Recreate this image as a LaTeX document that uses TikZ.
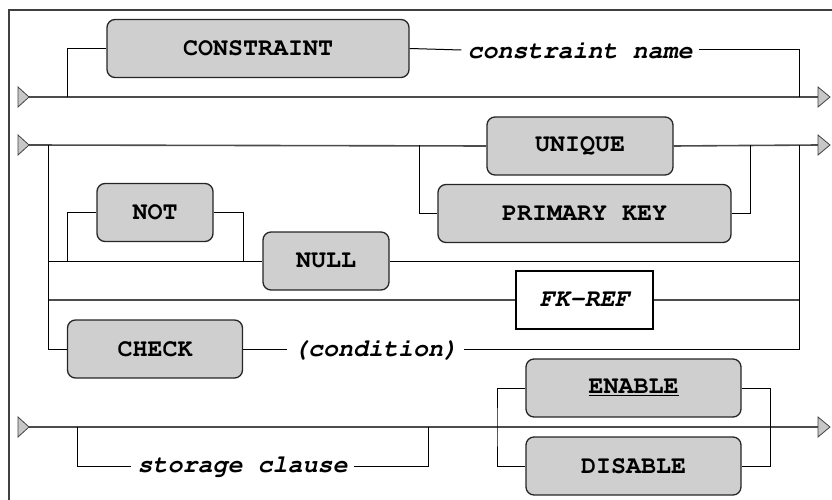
\documentclass[tikz,border=0pt]{standalone}
\usepackage[T1]{fontenc}
\usetikzlibrary{calc}
\newcommand{\kwfont}{\fontencoding{T1}\fontfamily{pcr}\fontsize{25}{28}\selectfont\bfseries}
\newcommand{\reffont}{\fontencoding{T1}\fontfamily{pcr}\fontsize{25}{28}\selectfont\bfseries\slshape}
\tikzset{
  kw/.style={draw=black!85, line width=1.3pt, fill=black!19, rounded corners=8pt,
    font=\kwfont, minimum height=58pt, inner sep=0pt},
  fkbox/.style={draw=black, line width=1.3pt, fill=white, font=\reffont,
    minimum height=58pt, inner sep=0pt},
  ref/.style={font=\reffont, inner sep=6pt},
  mainline/.style={draw=black!70, line width=1.6pt},
  thinline/.style={draw=black, line width=1pt},
  tip/.style={fill=black!22, draw=black!75, line width=0.8pt, line join=miter},
}

\begin{document}
\begin{tikzpicture}[x=1pt, y=-1pt]
  \useasboundingbox (0,0) rectangle (832,500);
  \clip (0,0) rectangle (832,500);
  \draw[line width=1.3pt, black!75] (9,10) rectangle (850,520);

  % boxes and texts
  \node[kw, minimum width=302pt] (cons) at (258,48.5) {CONSTRAINT};
  \node[ref] (cname) at (580,50) {constraint name};
  \node[kw, minimum width=186pt] (uniq) at (580,146) {UNIQUE};
  \node[kw, minimum width=293pt] (pkey) at (584.5,213.5) {PRIMARY KEY};
  \node[kw, minimum width=116pt] (not) at (155,212.5) {NOT};
  \node[kw, minimum width=126pt] (null) at (326,261) {NULL};
  \node[fkbox, minimum width=137pt] (fkref) at (584.5,300) {FK-REF};
  \node[kw, minimum width=175pt] (check) at (155,349) {CHECK};
  \node[ref] (cond) at (375.5,349) {(condition)};
  \node[ref] (stor) at (242.5,466) {storage clause};
  \node[kw, minimum width=215pt] (enab) at (633.5,388) {\underline{ENABLE}};
  \node[kw, minimum width=215pt] (disab) at (633.5,466) {DISABLE};

  % line ends and junctions
  \coordinate (a1) at (29,97);   \coordinate (z1) at (818,97);
  \coordinate (a2) at (29,145);  \coordinate (z2) at (818,145);
  \coordinate (a3) at (29,427);  \coordinate (z3) at (818,427);
  \coordinate (j1) at (67.7,97); \coordinate (k1) at (799,97);
  \coordinate (j2) at (419,145); \coordinate (k2) at (750,145);
  \coordinate (v2) at (48.7,145); \coordinate (r2) at (799,145);
  \coordinate (n1) at (67.7,261); \coordinate (n2) at (243,261);
  \coordinate (j3) at (77,427);  \coordinate (k3) at (428,427);
  \coordinate (e1) at (497,427); \coordinate (e2) at (770,427);

  % main lines
  \draw[mainline] (a1) -- (z1);
  \draw[mainline] (a2) -- (uniq.west);
  \draw[mainline] (uniq.east) -- (z2);
  \draw[mainline] (a3) -- (z3);
  \draw[mainline] (v2 |- fkref.west) -- (fkref.west);
  \draw[mainline] (fkref.east) -- (r2 |- fkref.east);

  % branches
  \draw[thinline] (j1) |- (cons.west);
  \draw[thinline] (cons.east) -- (cname.west);
  \draw[thinline] (cname.east) -| (k1);
  \draw[thinline] (j2) |- (pkey.west);
  \draw[thinline] (pkey.east) -| (k2);
  \draw[thinline] (v2) |- (check.west);
  \draw[thinline] (check.east) -- (cond.west);
  \draw[thinline] (cond.east) -| (r2);
  \draw[thinline] (v2 |- null.west) -- (null.west);
  \draw[thinline] (null.east) -- (r2 |- null.east);
  \draw[thinline] (n1) |- (not.west);
  \draw[thinline] (not.east) -| (n2);
  \draw[thinline] (j3) |- (stor.west);
  \draw[thinline] (stor.east) -| (k3);
  \draw[thinline] (enab.west) -| (e1) |- (disab.west);
  \draw[thinline] (enab.east) -| (e2) |- (disab.east);

  % start and end marks
  \foreach \y in {97,145,427} {
    \draw[tip] (18,\y-10) -- (29,\y) -- (18,\y+10) -- cycle;
    \draw[tip] (818,\y-10) -- (830,\y) -- (818,\y+10) -- cycle;
  }
\end{tikzpicture}
\end{document}
